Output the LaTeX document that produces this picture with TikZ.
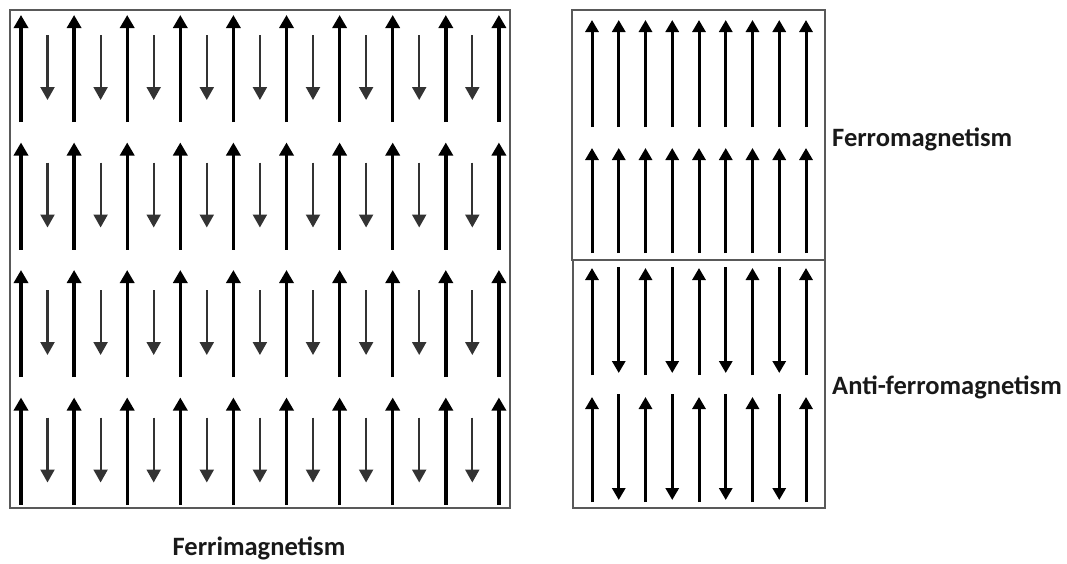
\documentclass[tikz,border=0pt]{standalone}
\usepackage{fontspec}
\setmainfont{Carlito}
\usetikzlibrary{arrows.meta}
\tikzset{
  frame/.style={draw=black!65, line width=1.5pt},
  uparr/.style={line width=3.4pt, draw=black, -{Triangle[length=13pt,width=14pt]}},
  downarr/.style={line width=2.2pt, draw=black!80, -{Triangle[length=13pt,width=14pt]}},
  ferroarr/.style={line width=3pt, draw=black, -{Triangle[length=12pt,width=13pt]}},
  lbl/.style={font=\bfseries\fontsize{26.5}{30}\selectfont, inner sep=0pt, text=black!90}
}
\begin{document}
\begin{tikzpicture}[x=1pt,y=-1pt]
\useasboundingbox (0,0) rectangle (1067,563);
% frames
\draw[frame] (10,10) rectangle (510,508);
\draw[frame] (572,10) rectangle (825,260);
\draw[frame] (573,260) rectangle (825,508);
% ferrimagnetism
\foreach \r in {0,...,3}{
  \pgfmathsetmacro{\yo}{15+127.5*\r}
  \foreach \i in {0,...,9}{
    \draw[uparr] (21+53.1*\i,\yo+107) -- (21+53.1*\i,\yo);
  }
  \foreach \i in {0,...,8}{
    \draw[downarr] (47.5+53.1*\i,\yo+20) -- (47.5+53.1*\i,\yo+85);
  }
}
% ferromagnetism
\foreach \i in {0,...,8}{
  \draw[ferroarr] (592+26.75*\i,127) -- (592+26.75*\i,20);
  \draw[ferroarr] (592+26.75*\i,253) -- (592+26.75*\i,148);
}
% anti-ferromagnetism
\foreach \i in {0,2,4,6,8}{
  \draw[ferroarr] (592+26.75*\i,375) -- (592+26.75*\i,268);
  \draw[ferroarr] (592+26.75*\i,502) -- (592+26.75*\i,397);
}
\foreach \i in {1,3,5,7}{
  \draw[ferroarr] (592+26.75*\i,267) -- (592+26.75*\i,373);
  \draw[ferroarr] (592+26.75*\i,394) -- (592+26.75*\i,500);
}
% labels
\node[lbl, anchor=west] (ferro) at (832,139) {Ferromagnetism};
\node[lbl, anchor=west] (anti) at (832,387) {Anti-ferromagnetism};
\node[lbl] (ferri) at (259,548) {Ferrimagnetism};
\end{tikzpicture}
\end{document}
